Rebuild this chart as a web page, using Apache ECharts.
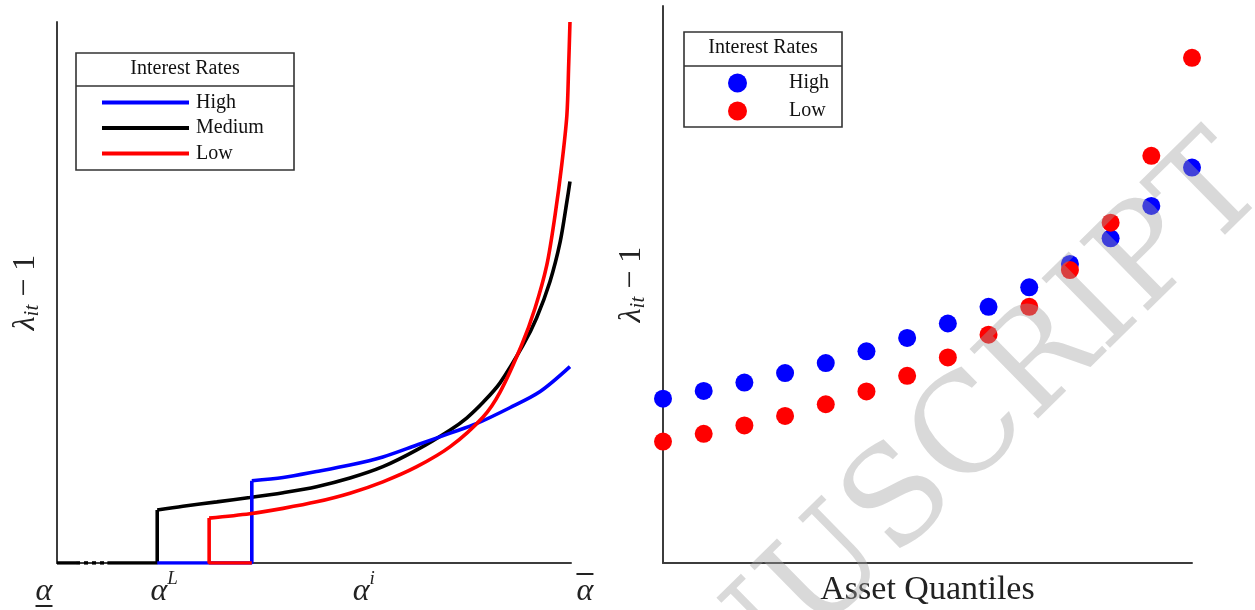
<!DOCTYPE html>
<html>
<head>
<meta charset="utf-8">
<script src="https://cdn.jsdelivr.net/npm/echarts@6/dist/echarts.min.js"></script>
<style>
html, body { margin: 0; padding: 0; background: #fff; }
#main { width: 1255px; height: 610px; }
</style>
</head>
<body>
<div id="main"></div>
<script>
// left panel: x from alpha_low (0) to alpha_high (100), y 0-100
var highStep = [[19.5, 0], [37.9, 0], [37.9, 15.2]];
var highCurve = [[37.9, 15.2], [44.0, 15.8], [50.5, 16.9], [57.0, 18.1], [63.4, 19.6], [70.0, 21.8],
    [76.5, 24.0], [81.7, 25.8], [88.1, 28.7], [94.0, 31.7], [99.8, 36.3]];

var mediumSolid = [[0, 0], [3.7, 0]];
var mediumDotted = [[3.7, 0], [9.8, 0]];
var mediumStep = [[9.8, 0], [19.5, 0], [19.5, 9.8]];
var mediumCurve = [[19.5, 9.8], [24.5, 10.5], [31.1, 11.3], [37.5, 12.1], [44.0, 13.0], [50.5, 14.1],
    [57.0, 15.7], [63.4, 17.8], [70.0, 20.9], [76.5, 24.6], [79.7, 26.8], [83.0, 29.8], [86.2, 33.3],
    [90.7, 40.3], [93.3, 45.3], [95.9, 52.0], [97.9, 59.4], [99.2, 66.8], [99.8, 70.5]];

var lowStep = [[37.9, 0], [29.6, 0], [29.6, 8.3]];
var lowCurve = [[29.6, 8.3], [37.5, 9.1], [44.0, 10.1], [50.5, 11.3], [57.0, 12.9], [63.4, 15.0],
    [70.0, 17.8], [76.5, 21.5], [82.9, 27.0], [86.2, 31.6], [90.4, 40.3], [93.0, 47.1], [95.3, 55.1],
    [96.9, 64.3], [98.2, 73.6], [99.2, 82.8], [99.55, 92.1], [99.8, 100]];

var alphaTicks = [0, 19.5, 59.1, 100];
var alphaLabels = [
    '{t13| }\n{au|α}{w26| }\n{bar| }{w26| }',
    '{t16| }\n{w14| }{a|α}{sup|L}',
    '{t16| }\n{w6| }{a|α}{sup|i}',
    '{w28| }{bar| }{v16| }\n{w28| }{a|α}'
];

// right panel
var quantiles = ['Q1', 'Q2', 'Q3', 'Q4', 'Q5', 'Q6', 'Q7', 'Q8', 'Q9', 'Q10', 'Q11', 'Q12', 'Q13', 'Q14'];
var highRates = [29.5, 30.9, 32.4, 34.1, 35.9, 38.0, 40.4, 43.0, 46.0, 49.5, 53.7, 58.3, 64.1, 71.0];
var lowRates = [21.8, 23.2, 24.7, 26.4, 28.5, 30.8, 33.6, 36.9, 41.0, 46.0, 52.6, 61.1, 73.1, 90.7];

var serif = "'Liberation Serif', 'DejaVu Serif', serif";
var axisColor = '#3c3c3c';
var lamName = '{l|λ}{s|it}{n| − 1}';
var lamRich = {
    l: { fontFamily: serif, fontSize: 32, fontStyle: 'italic', color: '#222' },
    s: { fontFamily: serif, fontSize: 21, fontStyle: 'italic', color: '#222', padding: [14, 0, 0, 0] },
    n: { fontFamily: serif, fontSize: 32, color: '#222' }
};

function spacer(w, h) {
    return { width: w, fontSize: 1, lineHeight: h || 1 };
}

function lineSeries(name, color, data, smooth, dashed, z) {
    return {
        name: name, type: 'line', xAxisIndex: 0, yAxisIndex: 0,
        data: data, showSymbol: false, symbol: 'none', smooth: smooth,
        lineStyle: { color: color, width: 3.6, type: dashed ? [4, 4] : 'solid' },
        itemStyle: { color: color }, z: z, silent: true
    };
}

var chart = echarts.init(document.getElementById('main'));
chart.setOption({
    animation: false,
    grid: [
        { left: 57, top: 22, width: 514, height: 541, outerBoundsMode: 'none' },
        { left: 663, top: 6, width: 529, height: 557, outerBoundsMode: 'none' }
    ],
    xAxis: [
        {
            gridIndex: 0, type: 'value', min: 0, max: 100,
            axisLine: { lineStyle: { color: axisColor, width: 2 } },
            axisTick: { show: false }, splitLine: { show: false },
            axisLabel: {
                customValues: alphaTicks, margin: 3,
                formatter: function (v) { return alphaLabels[alphaTicks.indexOf(v)]; },
                rich: {
                    a: { fontFamily: serif, fontSize: 32, lineHeight: 20, fontStyle: 'italic', color: '#222' },
                    au: { fontFamily: serif, fontSize: 32, lineHeight: 26, fontStyle: 'italic', color: '#222' },
                    sup: { fontFamily: serif, fontSize: 19, lineHeight: 20, fontStyle: 'italic', color: '#222', padding: [0, 0, 26, 0] },
                    bar: { width: 17, height: 2, fontSize: 1, backgroundColor: '#222' },
                    t13: spacer(1, 13), t16: spacer(1, 16), v16: spacer(0.1, 16),
                    w6: spacer(6), w14: spacer(14), w26: spacer(26), w28: spacer(28)
                }
            }
        },
        {
            gridIndex: 1, type: 'category', data: quantiles, boundaryGap: false,
            axisLine: { lineStyle: { color: axisColor, width: 2 } },
            axisTick: { show: false }, axisLabel: { show: false }, splitLine: { show: false },
            name: 'Asset Quantiles', nameLocation: 'middle', nameGap: 10,
            nameTextStyle: { fontFamily: serif, fontSize: 34, color: '#222' }
        }
    ],
    yAxis: [
        {
            gridIndex: 0, type: 'value', min: 0, max: 100,
            axisLine: { show: true, lineStyle: { color: axisColor, width: 2 } },
            axisTick: { show: false }, axisLabel: { show: false }, splitLine: { show: false },
            name: lamName, nameLocation: 'middle', nameRotate: 90, nameGap: 14,
            nameTextStyle: { rich: lamRich }
        },
        {
            gridIndex: 1, type: 'value', min: 0, max: 100,
            axisLine: { show: true, lineStyle: { color: axisColor, width: 2 } },
            axisTick: { show: false }, axisLabel: { show: false }, splitLine: { show: false },
            name: lamName, nameLocation: 'middle', nameRotate: 90, nameGap: 14,
            nameTextStyle: { rich: lamRich }
        }
    ],
    legend: [
        {
            data: [{ name: 'High', icon: 'rect' }, { name: 'Medium', icon: 'rect' }, { name: 'Low', icon: 'rect' }],
            orient: 'vertical', left: 102, top: 90, padding: 0,
            itemWidth: 87, itemHeight: 4, itemGap: 0.5, selectedMode: false,
            textStyle: { fontFamily: serif, fontSize: 20, lineHeight: 25, color: '#111', padding: [0, 0, 0, 2] }
        },
        {
            data: [{ name: 'High', icon: 'circle' }, { name: 'Low', icon: 'circle' }],
            orient: 'vertical', left: 728, top: 73, padding: 0,
            itemWidth: 19, itemHeight: 19, itemGap: 8, selectedMode: false,
            textStyle: { fontFamily: serif, fontSize: 20, color: '#111', padding: [0, 0, 0, 37] }
        }
    ],
    graphic: [
        // legend frames with header row
        { type: 'rect', shape: { x: 76, y: 53, width: 218, height: 117 }, style: { fill: 'none', stroke: '#333', lineWidth: 1.6 }, z: 1 },
        { type: 'line', shape: { x1: 76, y1: 86, x2: 294, y2: 86 }, style: { stroke: '#333', lineWidth: 1.6 }, z: 1 },
        { type: 'text', x: 185, y: 69, style: { text: 'Interest Rates', fontFamily: serif, fontSize: 20, fill: '#111', align: 'center', verticalAlign: 'middle' }, z: 1 },
        { type: 'rect', shape: { x: 684, y: 32, width: 158, height: 95 }, style: { fill: 'none', stroke: '#333', lineWidth: 1.6 }, z: 1 },
        { type: 'line', shape: { x1: 684, y1: 66, x2: 842, y2: 66 }, style: { stroke: '#333', lineWidth: 1.6 }, z: 1 },
        { type: 'text', x: 763, y: 48, style: { text: 'Interest Rates', fontFamily: serif, fontSize: 20, fill: '#111', align: 'center', verticalAlign: 'middle' }, z: 1 },
        // watermark
        {
            type: 'text', x: 1293, y: 213, rotation: 0.777, z: 100, silent: true,
            style: { text: 'MANUSCRIPT', fontFamily: "'DejaVu Serif', serif", fontSize: 134, fill: 'rgba(160,160,160,0.4)', align: 'right', verticalAlign: 'bottom' }
        }
    ],
    series: [
        lineSeries('Medium', '#000000', mediumSolid, false, false, 2),
        lineSeries('Medium', '#000000', mediumDotted, false, true, 2),
        lineSeries('Medium', '#000000', mediumStep, false, false, 2),
        lineSeries('Medium', '#000000', mediumCurve, 0.3, false, 2),
        lineSeries('High', '#0000ff', highStep, false, false, 3),
        lineSeries('High', '#0000ff', highCurve, 0.3, false, 3),
        lineSeries('Low', '#ff0000', lowStep, false, false, 4),
        lineSeries('Low', '#ff0000', lowCurve, 0.3, false, 4),
        {
            name: 'High', type: 'scatter', xAxisIndex: 1, yAxisIndex: 1, data: highRates,
            symbolSize: 18, itemStyle: { color: '#0000ff', opacity: 1 }, z: 3
        },
        {
            name: 'Low', type: 'scatter', xAxisIndex: 1, yAxisIndex: 1, data: lowRates,
            symbolSize: 18, itemStyle: { color: '#ff0000', opacity: 1 }, z: 4
        }
    ]
});
</script>
</body>
</html>
